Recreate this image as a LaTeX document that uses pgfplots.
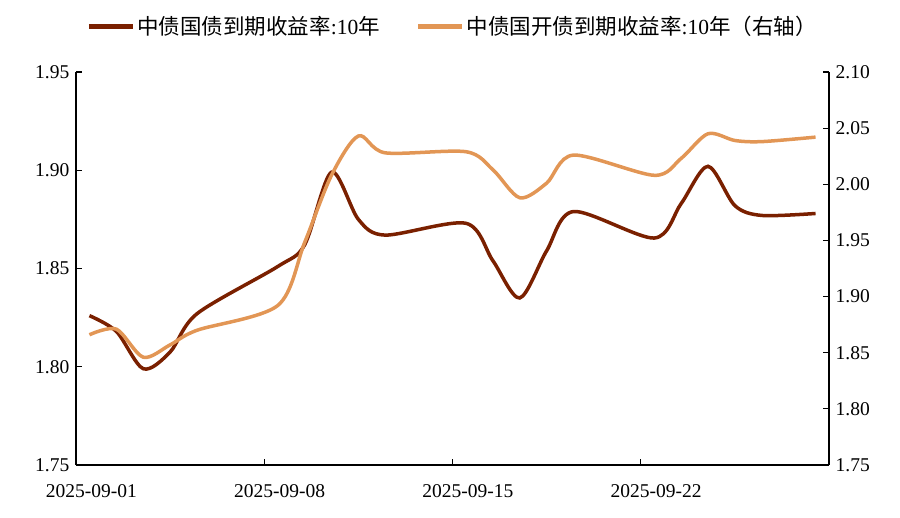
\documentclass[border=0pt]{standalone}
\usepackage{pgfplots}
\pgfplotsset{compat=1.18}
\usepackage{fontspec}
\setmainfont{Liberation Serif}
\newfontfamily\cjk{Noto Sans CJK SC}
\definecolor{dark}{RGB}{122,32,0}
\definecolor{light}{RGB}{226,150,85}
\pgfplotstableread{
x y
0 1.826
1 1.818
2 1.799
3 1.8075
4 1.827
7 1.851
8 1.862
9 1.899
10 1.875
11 1.867
14 1.873
15 1.854
16 1.835
17 1.859
18 1.879
21 1.8655
22 1.883
23 1.902
24 1.882
25 1.877
27 1.878
}\cgb
\pgfplotstableread{
x y
0 1.866
1 1.871
2 1.846
3 1.857
4 1.870
7 1.892
8 1.948
9 2.008
10 2.043
11 2.028
14 2.029
15 2.013
16 1.988
17 2.001
18 2.026
21 2.008
22 2.023
23 2.045
24 2.039
25 2.038
27 2.042
}\cdb
\begin{document}
\fontsize{19.5}{21}\selectfont
\begin{tikzpicture}[x=1pt,y=1pt]
\useasboundingbox (0,0) rectangle (900,517);
\pgfplotsset{
  common/.style={
    at={(76pt,52pt)}, anchor=south west,
    scale only axis, width=753pt, height=393pt,
    xmin=-0.5, xmax=27.5,
    major tick length=6pt,
    tick align=inside,
    axis line style={line width=1.4pt},
    every tick/.style={line width=1.2pt,black},
    tick label style={font=\fontsize{19.5}{21}\selectfont},
    /pgf/number format/assume math mode=true,
    yticklabel style={/pgf/number format/.cd, fixed, fixed zerofill, precision=2},
  }
}
\begin{axis}[common,
  axis x line*=bottom, axis y line*=left,
  ymin=1.75, ymax=1.95, ytick={1.75,1.80,...,1.951},
  xtick={6.5,13.5,20.5}, xticklabels={},
  extra x ticks={0,7,14,21},
  extra x tick labels={2025-09-01,2025-09-08,2025-09-15,2025-09-22},
  extra x tick style={major tick length=0pt, tick label style={yshift=-13pt, xshift=2pt}},
  legend columns=2,
  legend style={at={(0.5,1.115)}, anchor=center, draw=none, fill=none,
    font=\fontsize{21.5}{23}\selectfont,
    /tikz/every even column/.append style={column sep=34pt}},
  legend image code/.code={\draw[#1,line width=5pt] (0pt,0pt) -- (44pt,0pt);},
]
\addplot[dark, line width=3.5pt, smooth, tension=0.5] table[x=x,y=y]{\cgb};
\addlegendentry{{\cjk 中债国债到期收益率}:10{\cjk 年}}
\addlegendimage{light, line width=3.5pt}
\addlegendentry{{\cjk 中债国开债到期收益率}:10{\cjk 年（右轴）}}
\end{axis}
\begin{axis}[common,
  axis y line*=right, hide x axis,
  ymin=1.75, ymax=2.10, ytick={1.75,1.80,...,2.101},
]
\addplot[light, line width=3.5pt, smooth, tension=0.5] table[x=x,y=y]{\cdb};
\end{axis}
\end{tikzpicture}
\end{document}
